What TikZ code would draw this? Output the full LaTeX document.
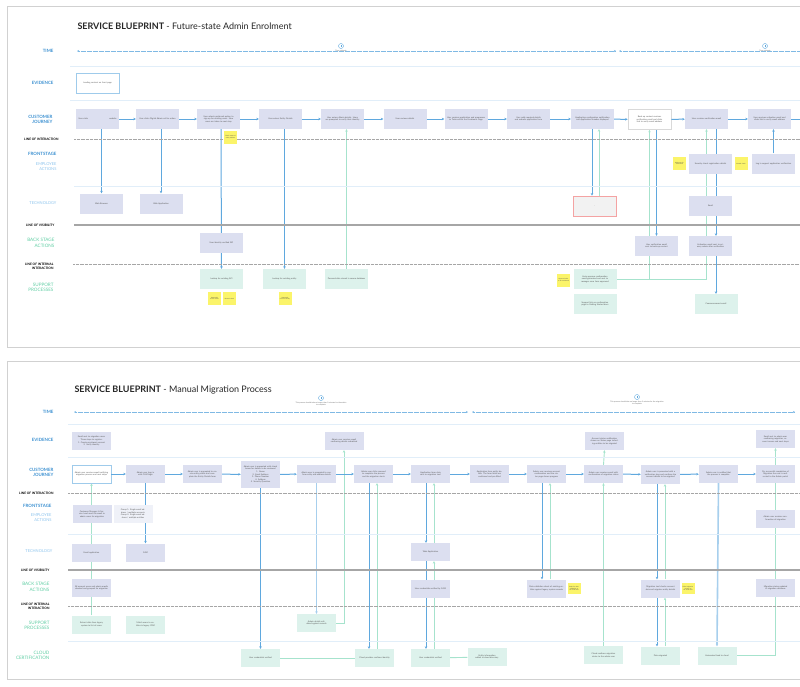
\documentclass[tikz,border=0pt]{standalone}
\usepackage{fontspec}
\setmainfont{Lato}
\usetikzlibrary{positioning, arrows.meta}
\pgfdeclarelayer{bg}
\pgfsetlayers{bg,main}
\definecolor{lav}{HTML}{DCDFF0}
\definecolor{mint}{HTML}{DDF2EC}
\definecolor{notey}{HTML}{FBF46A}
\definecolor{lblue}{HTML}{3A8FD0}
\definecolor{llight}{HTML}{8CC3EC}
\definecolor{lgreen}{HTML}{5FCDA3}
\definecolor{cblue}{HTML}{5FA8DE}
\definecolor{cgreen}{HTML}{A6E3CD}
\definecolor{sepc}{HTML}{E1EEF9}
\definecolor{redb}{HTML}{F4A3A3}

\begin{document}
\begin{tikzpicture}[x=1pt,y=-1pt,
    box/.style={rectangle, inner sep=0.5pt, minimum width=43pt, minimum height=20pt, text width=38pt, align=center, font=\fontsize{2.1}{2.5}\selectfont, text=black!65},
    jbox/.style={box, fill=lav},
    sbox/.style={box, fill=mint},
    wbox/.style={box, fill=white, draw=cblue!60, line width=0.6pt},
    rbox/.style={box, fill=black!5, draw=redb, line width=0.8pt},
    small/.style={minimum width=39pt, minimum height=18pt, text width=35pt},
    notebox/.style={rectangle, fill=notey, minimum width=13pt, minimum height=13pt, text width=11pt, inner sep=0.3pt, align=center, font=\fontsize{1.5}{1.8}\selectfont, text=black!70},
    lblsec/.style={anchor=east, align=right, text=lblue, font=\fontsize{4.4}{5.4}\selectfont\bfseries},
    lblsub/.style={anchor=east, align=right, text=llight, font=\fontsize{4}{5}\selectfont},
    lblgrn/.style={anchor=east, align=right, text=lgreen, font=\fontsize{4.6}{5.6}\selectfont},
    lblline/.style={anchor=east, align=right, text=black, font=\fontsize{3.2}{4}\selectfont\bfseries},
    titlenode/.style={anchor=west, font=\fontsize{9}{11}\selectfont, text=black!85},
    clock/.style={circle, draw=cblue, line width=0.4pt, fill=white, minimum size=5pt, inner sep=0pt,
      path picture={\draw[cblue, line width=0.3pt] (path picture bounding box.center) -- ++(0pt,1.5pt)
        (path picture bounding box.center) -- ++(1.2pt,0pt);}},
    cktext/.style={align=center, font=\fontsize{1.8}{2.2}\selectfont, text=black!60, inner sep=0.3pt},
    bline/.style={cblue, line width=1pt},
    wline/.style={cblue!55, line width=1.6pt},
    gline/.style={cgreen, line width=0.9pt},
    arr/.style={-{Stealth[length=2.5pt,width=2.5pt]}},
    tline/.style={cblue!80, line width=0.4pt, dash pattern=on 0.6pt off 0.6pt},
    dline/.style={black!35, line width=0.5pt, dash pattern=on 0.5pt off 0.8pt},
    vline/.style={black!35, line width=1.4pt},
    sepl/.style={sepc, line width=0.6pt},
    frame/.style={black!18, line width=1pt}]
\useasboundingbox (0,0) rectangle (800,686);

% ---------- panel 1 ----------
\draw[frame] (812,6) -- (7,6) -- (7,347) -- (812,347);
\node[titlenode] (title1) at (74,26) {\textbf{SERVICE BLUEPRINT} - Future-state Admin Enrolment};

\node[lblsec] (time1) at (57,51) {TIME};
\node[lblsec] (evid1) at (57,83) {EVIDENCE};
\node[lblsec] (cust1) at (56,119.5) {CUSTOMER\\JOURNEY};
\node[lblline] (loi1) at (62,139) {LINE OF INTERACTION};
\node[lblsec] (front1) at (60,154) {FRONTSTAGE};
\node[lblsub] (emp1) at (60,167) {EMPLOYEE\\ACTIONS};
\node[lblsub] (tech1) at (60,203.5) {TECHNOLOGY};
\node[lblline] (lov1) at (58,225) {LINE OF VISIBILITY};
\node[lblgrn] (back1) at (58,243) {BACK STAGE\\ACTIONS};
\node[lblline] (lii1) at (57,266) {LINE OF INTERNAL\\INTERACTION};
\node[lblgrn] (supp1) at (57,287.5) {SUPPORT\\PROCESSES};

% rules
\draw[sepl] (70,66) -- (812,66);
\draw[sepl] (70,100) -- (812,100);
\draw[dline] (74,139) -- (812,139);
\draw[sepl] (74,186) -- (812,186);
\draw[vline] (74,225) -- (812,225);
\draw[dline] (73,264) -- (812,264);

% time
\coordinate (ta1) at (77,51);
\coordinate (tm1) at (616,51);
\coordinate (tn1) at (619,51);
\coordinate (tb1) at (812,51);
\draw[tline, {Stealth[length=2pt,width=2pt]}-{Stealth[length=2pt,width=2pt]}] (ta1) -- (tm1);
\draw[tline, {Stealth[length=2pt,width=2pt]}-] (tn1) -- (tb1);
\node[clock] (ck1) at (341,46) {};
\node[cktext, below=0.6pt of ck1] (ck1t) {Time estimate};
\node[clock] (ck2) at (765,46) {};
\node[cktext, below=0.6pt of ck2] (ck2t) {Time estimate};

% evidence
\node[wbox] (ev1) at (97.5,83) {Landing content on front page};

% customer journey
\node[jbox] (j1) at (97.5,119) {User visits \hfill website};
\node[jbox] (j2) at (157.5,119) {User clicks Digital Admin call to action};
\node[jbox] (j3) at (218.5,119) {User selects preferred option to sign up for existing users. New users are taken to next step};
\node[jbox] (j4) at (280.5,119) {User enters Entity Details};
\node[jbox] (j5) at (342.5,119) {User enters Admin details. Users are prompted to verify their identity};
\node[jbox] (j6) at (405,119) {User reviews details};
\node[jbox] (j7) at (466,119) {User receives application and progresses to Tasks within the Enrolment stage};
\node[jbox] (j8) at (528.5,119) {User adds required details and submits application form};
\node[jbox] (j9) at (592.5,119) {Application confirmation notification and Application Number displayed};
\node[wbox, draw=black!15] (j10) at (649.5,119.5) {Back-up contact receives verification email and clicks link to verify email address};
\node[jbox] (j11) at (706.5,119) {User receives verification email};
\node[jbox] (j12) at (769.5,119) {User receives activation email and clicks link to verify email address};
\coordinate (jend) at (812,119);
\node[notebox] (nj3) at (230.5,137) {Check status of entity address};

% employee actions
\node[notebox] (ne1) at (679.5,163.5) {Add note for verification};
\node[jbox] (ea1) at (710.5,163.5) {Security check registration details};
\node[notebox] (ne2) at (741,163.5) {Manual check};
\node[jbox] (ea2) at (773.5,163.5) {Log in support application verification};

% technology
\node[jbox] (t1) at (101.5,203.5) {Web Browser};
\node[jbox] (t2) at (161,203.5) {Web Application};
\node[rbox] (tr) at (594.5,206) {\textperiodcentered};
\node[jbox] (tx) at (710.5,206) {Email};

% back stage
\node[jbox] (b1) at (221.5,243) {User identity verified API};
\node[jbox] (ba) at (656.5,246) {User verification email sent to back-up contact};
\node[jbox] (bb) at (710.5,246) {Activation email sent to primary admin after verification};

% support
\node[sbox] (s1) at (221.5,279) {Lookup for existing API};
\node[sbox] (s2) at (284.5,279) {Lookup for existing entity};
\node[sbox] (s3) at (346.5,279) {Personal data stored in secure database};
\node[sbox] (s4) at (595,279) {Auto approve confirmation email generated and sent to manager once form approved};
\node[sbox] (s5) at (595,304) {Support link on confirmation page to Getting Started docs};
\node[sbox] (s6) at (716,304) {Commencement email};
\node[notebox] (ns1) at (214.5,298.5) {Automatic check of API};
\node[notebox] (ns2) at (229.5,298.5) {Manual check};
\node[notebox] (ns3) at (285,298.5) {Automatic check of entity};
\node[notebox] (ns4) at (563.5,280) {Approval rules to be confirmed};

\path[bline, arr] (j1) edge (j2) (j2) edge (j3) (j3) edge (j4) (j4) edge (j5) (j5) edge (j6)
  (j6) edge (j7) (j7) edge (j8) (j8) edge (j9) (j9) edge (j10) (j10) edge (j11) (j11) edge (j12);

\begin{pgfonlayer}{bg}
\draw[bline] (j12) -- (jend);
\draw[bline, arr] (j1.south -| t1.north) -- (t1.north);
\draw[bline, arr] (j2.south -| t2.north) -- (t2.north);
\draw[bline, arr] ([xshift=-0.5pt]j3.south -| s1.north) -- (s1.north);
\draw[bline, arr] (j4.south -| s2.north) -- (s2.north);
\draw[gline, arr] (s3.north) -- (s3.north |- j5.south);
\draw[bline, arr] ([xshift=-2.5pt]tr.north |- j9.south) -- ([xshift=-2.5pt]tr.north);
\draw[gline, arr] ([xshift=4.5pt]tr.north) -- ([xshift=4.5pt]tr.north |- j9.south);
\draw[gline, arr] (s4.east) -| (j11.south);
\draw[gline, arr] (s4.east -| j10.south) -- (j10.south);
\draw[bline, arr] (j10.south -| ba.north) -- (ba.north);
\draw[bline, arr] (j11.south -| s6.north) -- (s6.north |- bb.north);
\draw[bline, arr] (bb.south -| s6.north) -- (s6.north);
\draw[bline, arr] (ea2.north) -- (ea2.north |- j12.south);
\end{pgfonlayer}

% ---------- panel 2 ----------
\draw[frame] (812,361) -- (7,361) -- (7,679) -- (812,679);
\node[titlenode] (title2) at (71,390) {\textbf{SERVICE BLUEPRINT} - Manual Migration Process};

\node[lblsec] (time2) at (57,412) {TIME};
\node[lblsec] (evid2) at (57,440) {EVIDENCE};
\node[lblsec] (cust2) at (57,472.5) {CUSTOMER\\JOURNEY};
\node[lblline] (loi2) at (57,493) {LINE OF INTERACTION};
\node[lblsec] (front2) at (55,506) {FRONTSTAGE};
\node[lblsub] (emp2) at (55,518) {EMPLOYEE\\ACTIONS};
\node[lblsub] (tech2) at (56,551) {TECHNOLOGY};
\node[lblline] (lov2) at (53,570) {LINE OF VISIBILITY};
\node[lblgrn] (back2) at (53,587) {BACK STAGE\\ACTIONS};
\node[lblline] (lii2) at (53,606.5) {LINE OF INTERNAL\\INTERACTION};
\node[lblgrn] (supp2) at (53,625.5) {SUPPORT\\PROCESSES};
\node[lblgrn] (cloud2) at (53,655.5) {CLOUD\\CERTIFICATION};

\draw[sepl] (68,424) -- (812,424);
\draw[sepl] (68,457) -- (812,457);
\draw[dline] (68,493) -- (812,493);
\draw[sepl] (68,534) -- (812,534);
\draw[vline] (68,570) -- (812,570);
\draw[dline] (68,606) -- (812,606);
\draw[sepl] (68,641) -- (812,641);

\coordinate (ta2) at (74,412);
\coordinate (tm2) at (468,412);
\coordinate (tn2) at (472,412);
\coordinate (tb2) at (795,412);
\draw[tline, {Stealth[length=2pt,width=2pt]}-{Stealth[length=2pt,width=2pt]}] (ta2) -- (tm2);
\draw[tline, {Stealth[length=2pt,width=2pt]}-{Stealth[length=2pt,width=2pt]}] (tn2) -- (tb2);
\node[clock] (ck3) at (321,398) {};
\node[cktext, below=1pt of ck3] (ck3t) {This process should take no longer than 2 minutes for the admin\\to complete};
\node[clock] (ck4) at (637,397) {};
\node[cktext, below=1pt of ck4] (ck4t) {This process should take no longer than 5 minutes for the migration\\to complete};

% evidence
\node[jbox, small] (e1) at (91.5,441) {Email sent to migration users\\[0.4pt] Three steps to register:\\ 1. Create enrolment account\\ 2. Verify identity};
\node[jbox, small] (e2) at (344,441) {Admin user receives email confirming details submitted};
\node[jbox, small] (e3) at (604.5,441) {Account status notification shown on Status page including entities to be migrated};
\node[jbox, small] (e4) at (775.5,439) {Email sent to admin user confirming migration, account access and next steps};

% customer journey
\node[wbox, small, line width=0.9pt] (m1) at (91.5,474) {Admin user receives email notifying migration process and next steps};
\node[jbox, small] (m2) at (145.5,474) {Admin user logs in\\ with CAM login};
\node[jbox, small] (m3) at (202.5,474) {Admin user is prompted to create entity profile and complete the Entity Details form};
\node[jbox, small, minimum height=27pt] (m4) at (260.5,474.5) {Admin user is presented with check boxes for details to be reviewed\\[0.4pt] 1. Name\\ 2. Email Address\\ 3. Phone Number\\ 4. Address\\ 5. Security Question};
\node[jbox, small] (m5) at (316.5,474) {Admin user is prompted to confirm entity and address details};
\node[jbox, small] (m6) at (373.5,474) {Admin user clicks proceed to complete the process and the migration starts};
\node[jbox, small] (m7) at (430.5,474) {Application form data\\ sent to migration tool};
\node[jbox, small] (m8) at (489.5,474) {Application form entity details. The form fields are confirmed and pre-filled};
\node[jbox, small] (m9) at (546.5,474) {Admin user receives account confirmation and the status page shows progress};
\node[jbox, small] (m10) at (603.5,474) {Admin user receives email with confirmation of migration status};
\node[jbox, small, minimum height=19pt] (m11) at (660.5,474.5) {Admin user is presented with a verification step and confirms the account details to be migrated};
\node[jbox, small] (m12) at (718.5,474) {Admin user is notified that the process is complete};
\node[jbox, small] (m13) at (775.5,474) {On successful completion of Migration the user is redirected to the Admin portal};

% employee actions
\node[jbox, small] (ea3) at (92,514) {Customer Manager \& Service Lead send the email to admin users for migration};
\node[jbox, small, fill=lav!45] (ea4) at (133,514) {Group 1: Single email address / multiple accounts\\ Group 2: Single email address / multiple entities};
\node[jbox, small] (ea5) at (775.5,518.5) {Admin user receives confirmation of migration};

% technology
\node[jbox, small] (t3) at (91.5,552.5) {Email application};
\node[jbox, small] (t4) at (145.5,552.5) {CAM};
\node[jbox, small] (t5) at (430.5,552) {Web Application};

% back stage
\node[jbox, small] (b3) at (91.5,588) {All account users and admin emails checked and grouped for migration};
\node[jbox, small] (b4) at (430.5,588.5) {User credentials verified by CAM};
\node[jbox, small] (b5) at (546.5,588.5) {Data validation check of existing entities against legacy system records};
\node[notebox, minimum height=11pt] (nb5) at (574,588.5) {Rules for data validation to be confirmed};
\node[jbox, small] (b6) at (660.5,588.5) {Migration tool checks account data and migrates entity details};
\node[notebox, minimum height=11pt] (nb6) at (688,588.5) {Failed migration process to be confirmed};
\node[jbox, small] (b7) at (775.5,588) {Migration status updated in migration database};

% support
\node[sbox, small] (s7) at (91.5,624.5) {Extract data from legacy system to list of users};
\node[sbox, small] (s8) at (145.5,624.5) {Match users to entities in legacy CRM};
\node[sbox, small] (s9) at (316.5,623) {Admin details validated against records};

% cloud certification
\node[sbox, small] (c1) at (260.5,658) {User credentials verified};
\node[sbox, small] (c2) at (374.5,658) {Cloud provider confirms identity};
\node[sbox, small] (c3) at (430.5,658) {User credentials verified};
\node[sbox, small] (c4) at (487,657) {Entity information added to cloud directory};
\node[sbox, small] (c5) at (603.5,655) {Cloud confirms migration status to the admin user};
\node[sbox, small] (c6) at (660.5,655.5) {Data migrated};
\node[sbox, small] (c7) at (717,655.5) {Automated load to cloud};

\path[bline, arr] (m1) edge (m2) (m2) edge (m3) (m3) edge (m4) (m4) edge (m5) (m5) edge (m6) (m6) edge (m7)
  (m7) edge (m8) (m8) edge (m9) (m9) edge (m10) (m10) edge (m11) (m11) edge (m12) (m12) edge (m13);

\begin{pgfonlayer}{bg}
\draw[gline, arr] (s7.north) -- (m1.south);
\draw[bline, arr] (m2.south) -- (t4.north);
\draw[bline, arr] (m4.south) -- (c1.north);
\draw[wline, arr] (m5.south) -- (s9.north);
\draw[gline, arr] (s9.east) -| (e2.south);
\draw[bline, arr] ([xshift=-5.5pt]c2.north |- m6.south) -- ([xshift=-5.5pt]c2.north);
\draw[gline, arr] ([xshift=2.5pt]c2.north) -- ([xshift=2.5pt]c2.north |- m6.south);
\draw[gline] (c1) -- (c2);
\draw[bline, arr] ([xshift=-4.5pt]m7.south) -- ([xshift=-4.5pt]t5.north);
\draw[bline, arr] ([xshift=-4.5pt]t5.south) -- ([xshift=-4.5pt]c3.north);
\draw[gline, arr] ([xshift=3.5pt]c3.north) -- ([xshift=3.5pt]t5.south);
\draw[gline, arr] ([xshift=3.5pt]t5.north) -- ([xshift=3.5pt]m7.south);
\draw[gline] (c3) -- (c4);
\draw[bline, arr] ([xshift=-4.5pt]m9.south) -- ([xshift=-4.5pt]b5.north);
\draw[gline, arr] ([xshift=3.5pt]b5.north) -- ([xshift=3.5pt]m9.south);
\draw[gline, arr] (c5.north) -- (m10.south);
\draw[gline, arr] (m10.north) -- (e3.south);
\draw[bline, arr] ([xshift=-3.5pt]m11.south) -- ([xshift=-3.5pt]b6.north);
\draw[bline, arr] ([xshift=-3.5pt]b6.south) -- ([xshift=-3.5pt]c6.north);
\draw[gline, arr] ([xshift=4.5pt]b6.north) -- ([xshift=4.5pt]m11.south);
\draw[gline, arr] ([xshift=4.5pt]c6.north) -- ([xshift=4.5pt]b6.south);
\draw[wline, arr] (m12.south) -- (c7.north);
\draw[gline, arr] (c7.east) -| (e4.south);
\end{pgfonlayer}
\end{tikzpicture}
\end{document}
